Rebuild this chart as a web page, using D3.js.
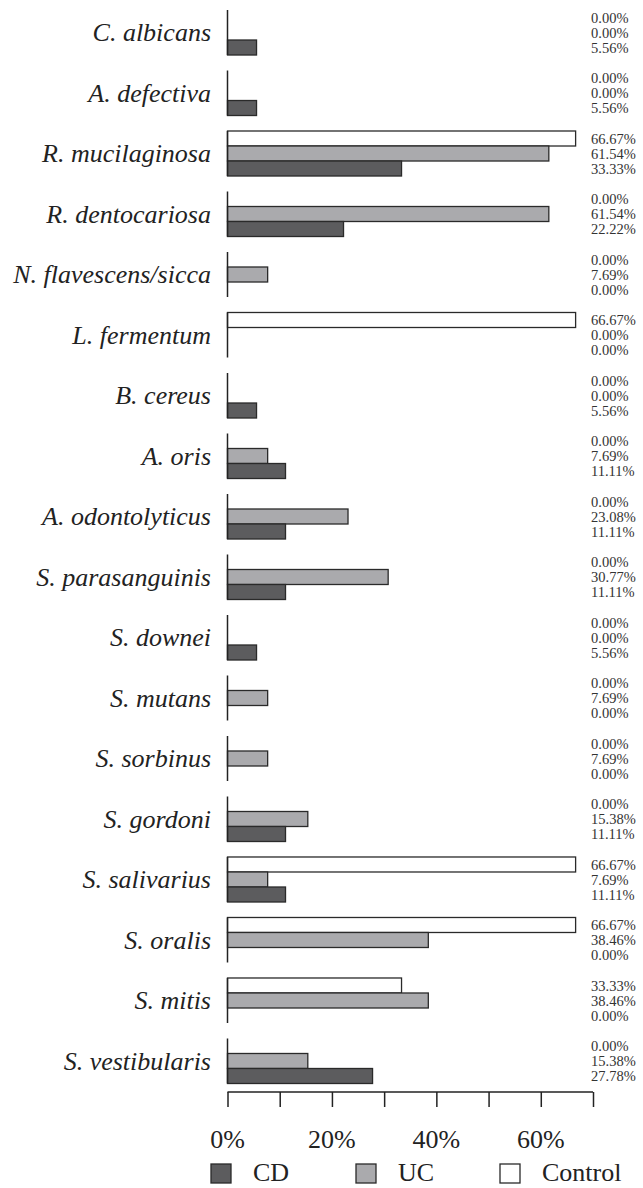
<!DOCTYPE html>
<html>
<head>
<meta charset="utf-8">
<script src="https://cdn.jsdelivr.net/npm/d3@7"></script>
<style>
  body { margin: 0; background: #fff; }
  svg text { font-family: 'Liberation Serif', Tinos, 'Times New Roman', Times, serif; fill: #222; }
</style>
</head>
<body>
<div id="chart"></div>
<script>
// data, top to bottom
var species = ['C. albicans', 'A. defectiva', 'R. mucilaginosa', 'R. dentocariosa',
  'N. flavescens/sicca', 'L. fermentum', 'B. cereus', 'A. oris', 'A. odontolyticus',
  'S. parasanguinis', 'S. downei', 'S. mutans', 'S. sorbinus', 'S. gordoni',
  'S. salivarius', 'S. oralis', 'S. mitis', 'S. vestibularis'];
var control = [0, 0, 66.67, 0, 0, 66.67, 0, 0, 0, 0, 0, 0, 0, 0, 66.67, 66.67, 33.33, 0];
var uc = [0, 0, 61.54, 61.54, 7.69, 0, 0, 7.69, 23.08, 30.77, 0, 7.69, 7.69, 15.38, 7.69, 38.46, 38.46, 15.38];
var cd = [5.56, 5.56, 33.33, 22.22, 0, 0, 5.56, 11.11, 11.11, 11.11, 5.56, 0, 0, 11.11, 11.11, 0, 0, 27.78];
var tickValues = [0, 10, 20, 30, 40, 50, 60, 70];
var tickLabels = [0, 20, 40, 60];

var seriesNames = ['Control', 'UC', 'CD'];
var seriesValues = [control, uc, cd];
var colors = { Control: '#ffffff', UC: '#aaaaad', CD: '#5c5c5e' };
var serif = "'Liberation Serif', Tinos, 'Times New Roman', Times, serif";

var width = 643, height = 1188;
var svg = d3.select('#chart').append('svg')
  .attr('width', width)
  .attr('height', height);

var x = d3.scaleLinear().domain([0, 70]).range([227.5, 593]);
var y = d3.scaleBand().domain(species).range([10, 1083.5]).paddingInner(0.256).paddingOuter(0);
var ySub = d3.scaleBand().domain(seriesNames).range([0, y.bandwidth()]);

var groups = svg.selectAll('g.group')
  .data(species)
  .enter().append('g')
  .attr('class', 'group')
  .attr('transform', function (d) { return 'translate(0,' + y(d) + ')'; });

groups.each(function (name, i) {
  var g = d3.select(this);
  seriesNames.forEach(function (s, k) {
    var v = seriesValues[k][i];
    if (v > 0) {
      g.append('rect')
        .attr('x', x(0))
        .attr('y', ySub(s))
        .attr('width', x(v) - x(0))
        .attr('height', ySub.bandwidth())
        .style('fill', colors[s])
        .style('stroke', '#2a2a2a')
        .style('stroke-width', 1.3);
    }
    g.append('text')
      .attr('x', 591)
      .attr('y', ySub(s) + ySub.bandwidth() / 2)
      .attr('dy', '0.35em')
      .attr('font-family', serif)
      .style('font-size', '14.5px')
      .style('fill', '#333')
      .text(v.toFixed(2) + '%');
  });
  // zero line for the group
  g.append('line')
    .attr('x1', x(0)).attr('x2', x(0))
    .attr('y1', 0).attr('y2', y.bandwidth())
    .style('stroke', '#222')
    .style('stroke-width', 1.5);
  g.append('text')
    .attr('x', 211)
    .attr('y', y.bandwidth() / 2)
    .attr('dy', '0.33em')
    .attr('text-anchor', 'end')
    .attr('font-family', serif)
    .style('font-style', 'italic')
    .style('font-size', '26px')
    .text(name);
});

// x axis
var axisY = 1092;
var axis = svg.append('g').attr('transform', 'translate(0,' + axisY + ')');
axis.call(d3.axisBottom(x).tickValues(tickValues).tickSize(15).tickFormat(''))
  .call(function (a) { a.select('.domain').attr('d', 'M' + x(0) + ',0H' + x(70)); });
axis.selectAll('line, path').style('stroke', '#222').style('stroke-width', 1.5);
axis.selectAll('.tickLabel')
  .data(tickLabels)
  .enter().append('text')
  .attr('x', function (d) { return x(d); })
  .attr('y', 56)
  .attr('text-anchor', 'middle')
  .attr('font-family', serif)
  .style('font-size', '26px')
  .text(function (d) { return d + '%'; });

// legend
var legendItems = [
  { name: 'CD', x: 211 },
  { name: 'UC', x: 356 },
  { name: 'Control', x: 500 }
];
var legend = svg.selectAll('g.legend')
  .data(legendItems)
  .enter().append('g')
  .attr('class', 'legend')
  .attr('transform', function (d) { return 'translate(' + d.x + ',1164)'; });
legend.append('rect')
  .attr('width', 20).attr('height', 19)
  .style('fill', function (d) { return colors[d.name]; })
  .style('stroke', '#2a2a2a')
  .style('stroke-width', 1.3);
legend.append('text')
  .attr('x', 42)
  .attr('y', 17)
  .attr('font-family', serif)
  .style('font-size', '26px')
  .text(function (d) { return d.name; });
</script>
</body>
</html>
